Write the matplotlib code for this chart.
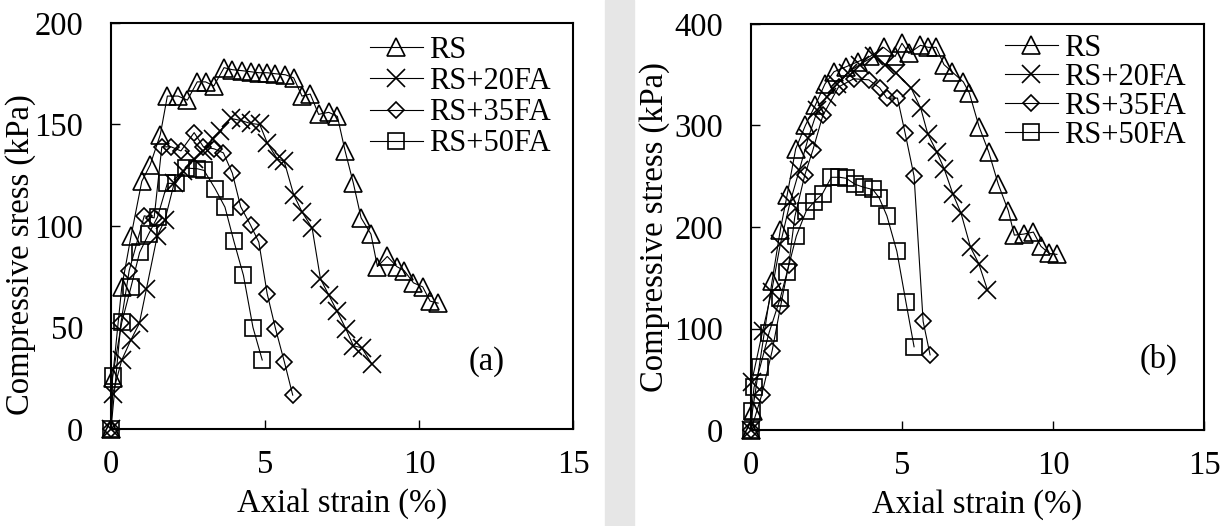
import matplotlib
matplotlib.use("Agg")
import matplotlib.pyplot as plt
from matplotlib.patches import Rectangle

plt.rcParams["font.family"] = ["Liberation Serif", "DejaVu Serif"]
plt.rcParams["font.size"] = 23.5

# (a) stress-strain data, kPa vs %
rs_x_a = [0, 0.05, 0.35, 0.65, 1.0, 1.27, 1.6, 1.83, 2.18, 2.48, 2.8, 3.07, 3.34, 3.67, 3.94,
          4.26, 4.53, 4.8, 5.07, 5.34, 5.66, 5.93, 6.2, 6.47, 6.74, 7.07, 7.35, 7.6, 7.87,
          8.12, 8.44, 8.65, 8.97, 9.28, 9.52, 9.82, 10.12, 10.36, 10.62]
rs_y_a = [0, 25, 70, 95, 122, 130, 145, 164, 164, 162, 171, 171, 169, 178, 177, 176.5, 176,
          175.5, 175.5, 175, 174.5, 173, 164, 165, 155, 156, 154, 137, 121, 104, 96, 80, 85,
          80, 78, 72, 70, 63, 62]
fa20_x_a = [0, 0.05, 0.35, 0.65, 0.92, 1.15, 1.5, 1.75, 2.05, 2.35, 2.7, 3.0, 3.3, 3.55, 3.88,
            4.21, 4.53, 4.83, 5.07, 5.4, 5.62, 5.93, 6.2, 6.53, 6.8, 7.07, 7.34, 7.62, 7.87,
            8.14, 8.47]
fa20_y_a = [0, 17, 34, 44, 52, 69, 95, 103, 121, 127, 133, 137, 143, 147, 153, 152, 150.5,
            150, 141, 133, 132, 115.5, 107, 99, 74, 66, 58, 49.5, 41, 40, 32]
fa35_x_a = [0, 0.32, 0.59, 1.08, 1.4, 1.65, 1.95, 2.27, 2.7, 3.0, 3.35, 3.65, 3.94, 4.21, 4.53,
            4.8, 5.07, 5.34, 5.63, 5.9]
fa35_y_a = [0, 52, 78, 105, 104, 139, 139, 137, 146, 139, 138, 136, 126, 109.5, 100.5, 92,
            66.7, 49.5, 33, 16.7]
fa50_x_a = [0, 0.05, 0.35, 0.65, 0.93, 1.22, 1.51, 1.83, 2.1, 2.45, 2.8, 3.02, 3.38, 3.7, 3.99,
            4.3, 4.61, 4.91]
fa50_y_a = [0, 26, 52.5, 70, 87, 96, 104.4, 121, 121, 128.5, 128.2, 127.4, 118.4, 109.3, 92.5,
            75.7, 50, 34]

# (b)
rs_x_b = [0, 0.05, 0.7, 0.97, 1.2, 1.48, 1.8, 2.13, 2.45, 2.75, 3.16, 3.55, 3.94, 4.39, 4.77,
          5.0, 5.23, 5.61, 5.87, 6.13, 6.39, 6.65, 7.03, 7.23, 7.55, 7.87, 8.19, 8.52, 8.72,
          9.03, 9.35, 9.6, 9.87, 10.13]
rs_y_b = [0, 19, 147, 197, 232, 277, 300, 320, 341, 353, 358, 363, 368, 377, 368, 381, 371,
          379, 377, 377, 360, 353, 343, 332, 299, 274, 242, 216, 192, 193, 195, 181, 174, 173]
fa20_x_b = [0, 0.02, 0.39, 0.68, 0.97, 1.3, 1.6, 1.9, 2.2, 2.5, 2.85, 3.2, 3.6, 4.06, 4.45,
            4.8, 5.3, 5.62, 5.85, 6.15, 6.4, 6.68, 6.95, 7.27, 7.54, 7.83]
fa20_y_b = [0, 47, 98, 136, 183, 225, 256, 288, 315, 328, 341, 352, 360, 368, 360, 352, 337,
            317, 292, 274, 257, 233, 214, 180, 164, 138]
fa35_x_b = [0, 0.35, 0.7, 0.98, 1.25, 1.45, 1.78, 2.05, 2.38, 2.9, 3.4, 3.9, 4.26, 4.5, 4.85,
            5.1, 5.4, 5.7, 5.93]
fa35_y_b = [0, 34, 78, 122, 163, 210, 251, 276, 310, 338, 346, 345, 337, 327, 327, 293, 250,
            107, 74]
fa50_x_b = [0, 0.02, 0.1, 0.3, 0.6, 0.97, 1.2, 1.5, 1.83, 2.1, 2.37, 2.66, 2.93, 3.15, 3.45,
            3.75, 4.03, 4.24, 4.5, 4.83, 5.13, 5.4]
fa50_y_b = [0, 19, 42, 62, 96, 130, 156, 191, 216, 225, 233, 249, 249, 248, 242, 239, 237,
            229, 211, 176, 126, 82]

labels = ["RS", "RS+20FA", "RS+35FA", "RS+50FA"]
markers = ["^", "x", "D", "s"]
msizes = [12.5, 13, 8.5, 11.5]

fig = plt.figure(figsize=(12.32, 5.26), dpi=100)

# light grey band between the panels (scan artefact)
fig.patches.append(Rectangle((605 / 1232, 0), 29 / 1232, 1, transform=fig.transFigure,
                             color="#e6e6e6", zorder=0))

ax1 = fig.add_axes([111 / 1232, 97 / 526, 462 / 1232, 406 / 526])
ax2 = fig.add_axes([751 / 1232, 96 / 526, 453 / 1232, 406 / 526])

panels = [
    (ax1, [(rs_x_a, rs_y_a), (fa20_x_a, fa20_y_a), (fa35_x_a, fa35_y_a), (fa50_x_a, fa50_y_a)],
     200, 50, "Compressive sress (kPa)", "(a)", (12.2, 33), 0.968, 0.07),
    (ax2, [(rs_x_b, rs_y_b), (fa20_x_b, fa20_y_b), (fa35_x_b, fa35_y_b), (fa50_x_b, fa50_y_b)],
     400, 100, "Compressive stress (kPa)", "(b)", (13.5, 70), 0.975, 0.0),
]

for ax, series, ymax, ystep, ylab, tag, tagpos, legy, lsp in panels:
    for (xs, ys), lab, m, ms in zip(series, labels, markers, msizes):
        ax.plot(xs, ys, color="black", lw=0.8, marker=m, ms=ms, mfc="none", mec="black",
                mew=1.2, label=lab, clip_on=False)
    ax.set_xlim(0, 15)
    ax.set_ylim(0, ymax)
    ax.set_xticks([0, 5, 10, 15])
    ax.set_yticks(range(0, ymax + 1, ystep))
    ax.tick_params(axis="both", direction="in", length=6.5, width=1.0, top=False, right=False)
    ax.tick_params(axis="x", pad=15)
    ax.tick_params(axis="y", pad=20)
    for s in ax.spines.values():
        s.set_linewidth(1.5)
    ax.set_xlabel("Axial strain (%)", labelpad=6)
    ax.set_ylabel(ylab)
    ax.text(tagpos[0], tagpos[1], tag, ha="center", va="center")
    ax.legend(loc="upper left", bbox_to_anchor=(0.56, legy), frameon=False, borderpad=0,
              borderaxespad=0, handlelength=1.75, handletextpad=0.2, labelspacing=lsp,
              fontsize=22)

ax1.yaxis.set_label_coords(-0.162, 0.43)
ax2.yaxis.set_label_coords(-0.178, 0.5)

plt.savefig("out.png", dpi=100)
